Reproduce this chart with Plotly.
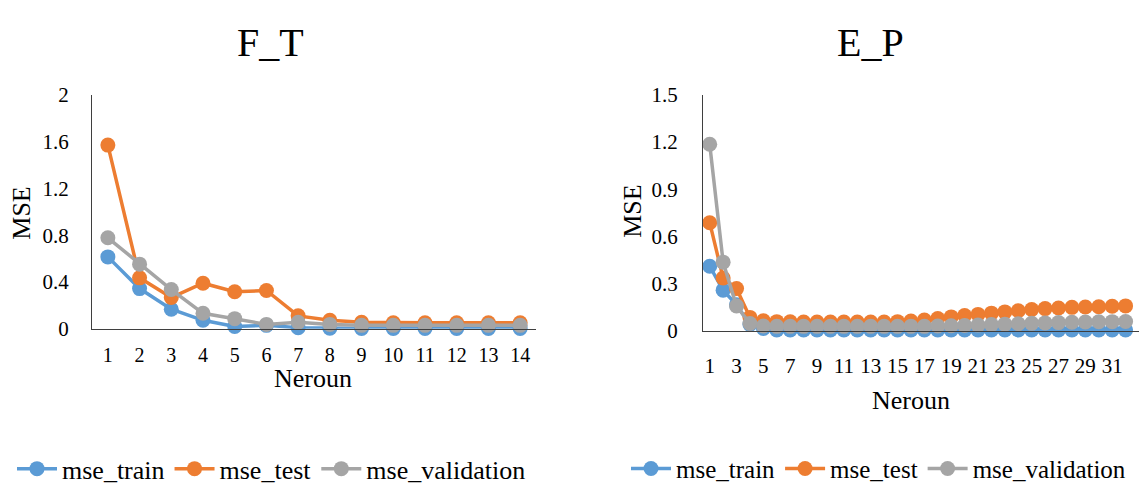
import plotly.graph_objects as go

# ---- data ----
ft_neurons = list(range(1, 15))
ft_mse_train = [0.615, 0.344, 0.168, 0.073, 0.02, 0.03, 0.01, 0.005, 0.003, 0.003, 0.003, 0.003, 0.003, 0.003]
ft_mse_test = [1.57, 0.436, 0.268, 0.39, 0.317, 0.328, 0.111, 0.073, 0.057, 0.052, 0.052, 0.052, 0.052, 0.052]
ft_mse_validation = [0.778, 0.553, 0.336, 0.133, 0.087, 0.038, 0.057, 0.038, 0.03, 0.03, 0.03, 0.03, 0.03, 0.03]

ep_neurons = list(range(1, 33))
ep_mse_train = [0.41, 0.258, 0.165, 0.04, 0.015] + [0.005] * 27
ep_mse_test = [0.687, 0.335, 0.268, 0.085, 0.063,
               0.058, 0.057, 0.056, 0.055, 0.055, 0.055, 0.055, 0.055, 0.056, 0.058,
               0.062, 0.068, 0.078, 0.088, 0.097, 0.104, 0.112, 0.12, 0.127, 0.135,
               0.141, 0.145, 0.149, 0.151, 0.153, 0.156, 0.158]
ep_mse_validation = [1.186, 0.436, 0.157, 0.046, 0.03] + [0.028] * 12 + \
    [0.03, 0.032, 0.034, 0.036, 0.039, 0.042, 0.045, 0.047, 0.05, 0.052, 0.054, 0.056, 0.057, 0.058, 0.059]

ft_yticks = [0, 0.4, 0.8, 1.2, 1.6, 2]
ft_yticklabels = ["0", "0.4", "0.8", "1.2", "1.6", "2"]
ep_yticks = [0, 0.3, 0.6, 0.9, 1.2, 1.5]
ep_yticklabels = ["0", "0.3", "0.6", "0.9", "1.2", "1.5"]

series_names = ["mse_train", "mse_test", "mse_validation"]
colors = ["#5B9BD5", "#ED7D31", "#A5A5A5"]

FONT = "Liberation Serif"
W, H = 1139, 495

fig = go.Figure()

for name, color, ys in zip(series_names, colors, [ft_mse_train, ft_mse_test, ft_mse_validation]):
    fig.add_trace(go.Scatter(
        x=ft_neurons, y=ys, name=name, mode="lines+markers",
        line=dict(color=color, width=3.5), marker=dict(color=color, size=15),
        xaxis="x", yaxis="y", legend="legend", cliponaxis=False))

for name, color, ys in zip(series_names, colors, [ep_mse_train, ep_mse_test, ep_mse_validation]):
    fig.add_trace(go.Scatter(
        x=ep_neurons, y=ys, name=name, mode="lines+markers",
        line=dict(color=color, width=3.5), marker=dict(color=color, size=15),
        xaxis="x2", yaxis="y2", legend="legend2", cliponaxis=False))

axis_common = dict(showgrid=False, zeroline=False, showline=True, linecolor="#3f3f3f",
                   linewidth=1, ticks="", tickfont=dict(family=FONT, size=21, color="black"))

def px(xp):
    return xp / W

def py(yp):
    return 1 - yp / H

fig.update_layout(
    width=W, height=H,
    margin=dict(l=0, r=0, t=0, b=0),
    paper_bgcolor="white", plot_bgcolor="white",
    font=dict(family=FONT, color="black"),
    xaxis=dict(axis_common, domain=[px(92), px(536)], range=[0.5, 14.5],
               tickmode="array", tickvals=ft_neurons, ticklabelstandoff=8, anchor="y",
               tickfont=dict(family=FONT, size=20, color="black")),
    yaxis=dict(axis_common, domain=[py(333), py(87)], range=[0, 2],
               tickmode="array", tickvals=ft_yticks, ticktext=ft_yticklabels,
               ticklabelstandoff=18, anchor="x"),
    xaxis2=dict(axis_common, domain=[px(703), 1.0], range=[0.5, 33.0],
                tickmode="array", tickvals=ep_neurons[::2], ticklabelstandoff=16, anchor="y2"),
    yaxis2=dict(axis_common, domain=[py(335), py(87)], range=[0, 1.5],
                tickmode="array", tickvals=ep_yticks, ticktext=ep_yticklabels,
                ticklabelstandoff=20, anchor="x2"),
    legend=dict(orientation="h", x=px(12), y=py(480), xanchor="left", yanchor="middle",
                font=dict(family=FONT, size=26, color="black"), bgcolor="rgba(0,0,0,0)",
                itemwidth=40),
    legend2=dict(orientation="h", x=px(626), y=py(480), xanchor="left", yanchor="middle",
                 font=dict(family=FONT, size=25, color="black"), bgcolor="rgba(0,0,0,0)",
                 itemwidth=40),
    showlegend=True,
)

annots = [
    dict(text="F_T", x=px(270), y=py(32), size=40, angle=0),
    dict(text="E_P", x=px(871), y=py(32), size=40, angle=0),
    dict(text="MSE", x=px(22), y=py(212), size=26, angle=-90),
    dict(text="MSE", x=px(633), y=py(210), size=26, angle=-90),
    dict(text="Neroun", x=px(313), y=py(385), size=26, angle=0),
    dict(text="Neroun", x=px(911), y=py(408), size=26, angle=0),
]
for a in annots:
    fig.add_annotation(text=a["text"], x=a["x"], y=a["y"], xref="paper", yref="paper",
                       xanchor="center", yanchor="middle", showarrow=False,
                       textangle=a["angle"], font=dict(family=FONT, size=a["size"], color="black"))

fig.write_html("out.html")
